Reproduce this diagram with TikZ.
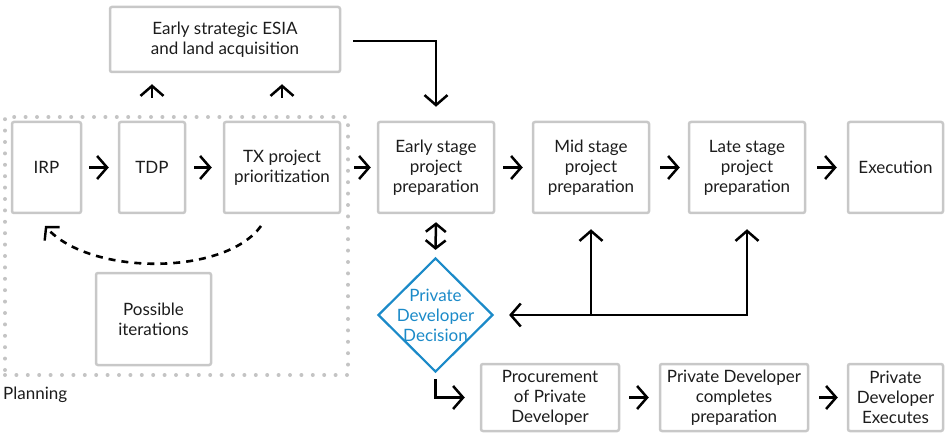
\documentclass[tikz,border=0pt]{standalone}
\usepackage{fontspec}
\setmainfont{Lato}
\usetikzlibrary{arrows.meta,shapes.geometric}
\definecolor{boxgray}{RGB}{200,200,200}
\definecolor{dotgray}{RGB}{196,196,196}
\definecolor{decblue}{RGB}{27,138,200}
\definecolor{ink}{RGB}{28,28,28}
\begin{document}
\begin{tikzpicture}[x=1pt,y=-1pt,
  every node/.style={font=\fontsize{17}{20}\selectfont, text=ink},
  box/.style={draw=boxgray, line width=2.5pt, rounded corners=2pt, align=center, inner sep=0pt},
  tip/.tip={Straight Barb[length=10pt,width=23pt,line width=2.5pt]},
  shorttip/.tip={Straight Barb[length=8pt,width=20pt,line width=2.5pt]},
  arr/.style={draw=black, line width=2.5pt, -tip},
  darr/.style={draw=black, line width=2.5pt, tip-tip},
  sdarr/.style={draw=black, line width=2.5pt, shorttip-shorttip},
  loopback/.style={draw=black, line width=2.6pt, dash pattern=on 7pt off 6pt, -{Straight Barb[length=9pt,width=20pt,line width=2.4pt]}},
  group/.style={draw=dotgray, line width=4pt, line cap=round, dash pattern=on 0pt off 11.4pt, inner sep=0pt}
]
\useasboundingbox (0,0) rectangle (946,433);

% planning group
\node[group, minimum width=343pt, minimum height=258pt] (plan) at (176.5,246) {};
\node[anchor=west, inner sep=0pt] (planlbl) at ([yshift=-18pt]plan.south west) {Planning};

% planning steps
\node[box, minimum width=69pt, minimum height=91pt] (irp) at (46.5,167.5) {IRP};
\node[box, minimum width=66pt, minimum height=91pt] (tdp) at (152,167.5) {TDP};
\node[box, minimum width=116pt, minimum height=91pt] (tx) at (282,167.5) {TX project\\prioritization};
\node[box, minimum width=115pt, minimum height=92pt] (poss) at (153.5,319) {Possible\\iterations};

% strategic ESIA
\node[box, minimum width=230pt, minimum height=65pt] (esia) at (225,39.5) {Early strategic ESIA\\and land acquisition};

% preparation stages
\node[box, minimum width=116pt, minimum height=91pt] (early) at (436,167.5) {Early stage\\project\\preparation};
\node[box, minimum width=116pt, minimum height=91pt] (mid) at (591,167.5) {Mid stage\\project\\preparation};
\node[box, minimum width=116pt, minimum height=91pt] (late) at (747,167.5) {Late stage\\project\\preparation};
\node[box, minimum width=95pt, minimum height=91pt] (exec) at (895.5,167.5) {Execution};

% decision
\node[diamond, draw=decblue, line width=2.2pt, minimum width=115pt, minimum height=114pt, inner sep=0pt] (dec) at (435.5,315) {};
\node[text=decblue, align=center, inner sep=0pt] (dectxt) at (dec.center) {Private\\Developer\\Decision};

% private developer track
\node[box, minimum width=138pt, minimum height=67pt] (proc) at (550,397.5) {Procurement\\of Private\\Developer};
\node[box, minimum width=148pt, minimum height=67pt] (comp) at (734,397.5) {Private Developer\\completes\\preparation};
\node[box, minimum width=95pt, minimum height=67pt] (pexe) at (895.5,397.5) {Private\\Developer\\Executes};

% connectors
\draw[arr] ([xshift=7pt]irp.east) -- ([xshift=-9pt]tdp.west);
\draw[arr] ([xshift=8pt]tdp.east) -- ([xshift=-11pt]tx.west);
\draw[arr] ([xshift=13pt]tx.east) -- ([xshift=-6pt]early.west);
\draw[arr] ([xshift=8pt]early.east) -- ([xshift=-9pt]mid.west);
\draw[arr] ([xshift=10pt]mid.east) -- ([xshift=-8pt]late.west);
\draw[arr] ([xshift=11pt]late.east) -- ([xshift=-10pt]exec.west);
\draw[arr] ([xshift=9pt]proc.east) -- ([xshift=-10pt]comp.west);
\draw[arr] ([xshift=10pt]comp.east) -- ([xshift=-9pt]pexe.west);

\draw[arr] ([yshift=17pt]tdp.north |- plan.north) -- ([yshift=-11pt]tdp.north |- esia.south);
\draw[arr] ([yshift=17pt]tx.north |- plan.north) -- ([yshift=-11pt]tx.north |- esia.south);
\draw[arr] ([xshift=12pt,yshift=-1.5pt]esia.east) -| ([yshift=14pt]early.north);

\draw[sdarr] ([yshift=-8pt]early.south) -- ([yshift=7pt]dec.north);
\draw[darr] ([yshift=-15pt]late.south) -- (late.south |- dec.east) -- ([xshift=15pt]dec.east);
\draw[arr] (mid.south |- dec.east) -- ([yshift=-15pt]mid.south);
\draw[arr] ([yshift=-6pt]dec.south) |- ([xshift=-15pt]proc.west);

% iteration loop
\coordinate (loopA) at (261,226);
\coordinate (loopB) at (45,226);
\draw[loopback] (loopA) .. controls (225,276) and (90,276) .. (loopB);
\end{tikzpicture}
\end{document}
